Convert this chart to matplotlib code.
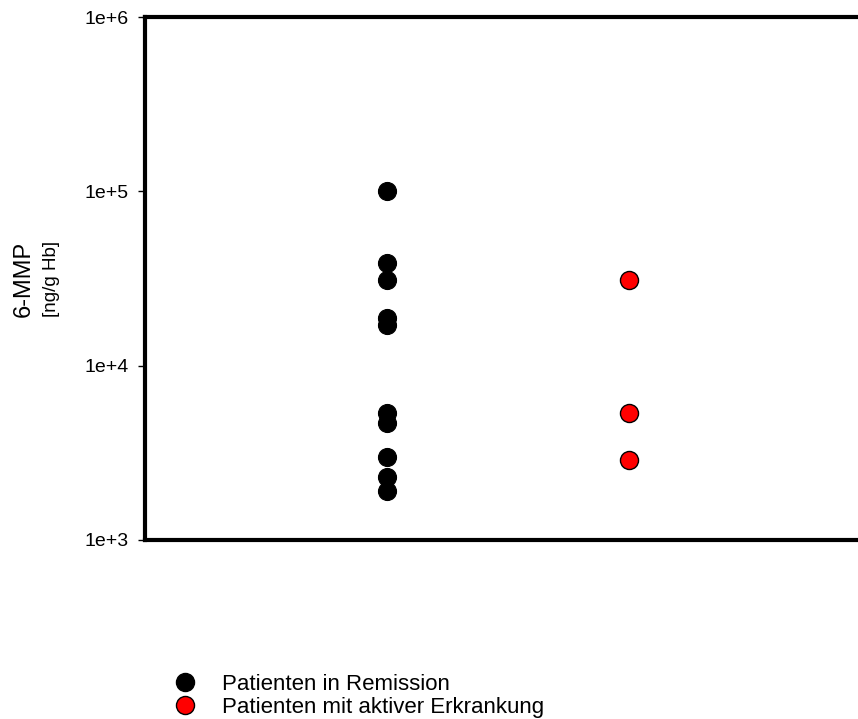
import matplotlib
matplotlib.use("Agg")
import matplotlib.pyplot as plt
from matplotlib.lines import Line2D

plt.rcParams['font.family'] = ['Liberation Sans', 'DejaVu Sans']

# values (ng/g Hb)
remission = [100000, 38900, 31100, 18700, 17000, 5350, 4690, 3010, 2310, 1910]
active = [30800, 5350, 2870]
group_pos = [1, 2]
y_ticks = [1e3, 1e4, 1e5, 1e6]
y_labels = ["1e+3", "1e+4", "1e+5", "1e+6"]
legend_labels = ["Patienten in Remission", "Patienten mit aktiver Erkrankung"]

fig = plt.figure(figsize=(8.58, 7.19), dpi=100)
# axes box runs past the right border, as in the reference
ax = fig.add_axes([145 / 858, 1 - 540 / 719, 726 / 858, 523 / 719])

ax.plot([group_pos[0]] * len(remission), remission, 'o', color='black',
        markersize=13, markeredgecolor='black', markeredgewidth=0.8, clip_on=False)
ax.plot([group_pos[1]] * len(active), active, 'o', color='red',
        markersize=13, markeredgecolor='black', markeredgewidth=1.0, clip_on=False)

ax.set_yscale('log')
ax.set_ylim(1e3, 1e6)
ax.set_xlim(0, 3)
ax.set_yticks(y_ticks)
ax.set_yticklabels(y_labels, fontsize=14)
ax.yaxis.set_minor_locator(matplotlib.ticker.NullLocator())
ax.set_xticks([])
ax.tick_params(axis='y', direction='out', length=5, width=1, pad=7)

for s in ['left', 'top', 'bottom']:
    ax.spines[s].set_linewidth(3)
ax.spines['right'].set_visible(False)

fig.text(24 / 858, 1 - 279 / 719, "6-MMP", rotation=90, fontsize=17,
         ha='center', va='center')
fig.text(52 / 858, 1 - 279 / 719, "[ng/g Hb]", rotation=90, fontsize=13.5,
         ha='center', va='center')

handles = [
    Line2D([], [], marker='o', linestyle='none', color='black', markersize=13),
    Line2D([], [], marker='o', linestyle='none', markerfacecolor='red',
           markeredgecolor='black', markersize=13),
]
fig.legend(handles, legend_labels, loc='upper left',
           bbox_to_anchor=(153 / 858, 1 - 658 / 719), frameon=False,
           fontsize=16, handletextpad=0.9, labelspacing=0.12, handlelength=1.5,
           borderpad=0.2)

plt.savefig("out.png", dpi=100)
